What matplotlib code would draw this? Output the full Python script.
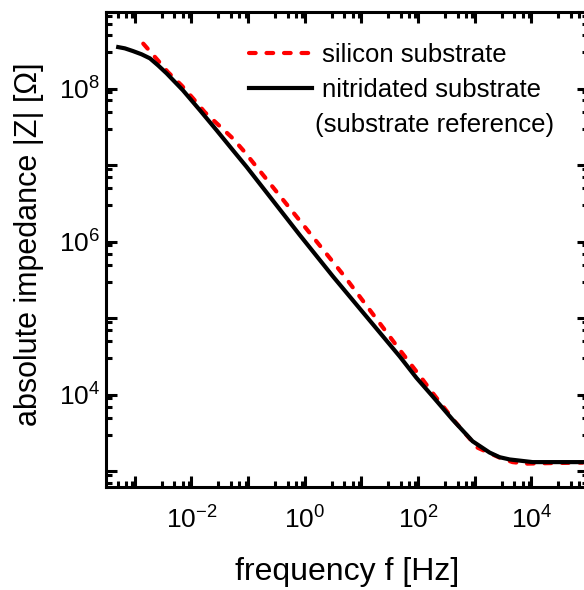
import matplotlib
matplotlib.use("Agg")
import matplotlib.pyplot as plt
from matplotlib.ticker import LogLocator, FuncFormatter, NullFormatter
import numpy as np

plt.rcParams['font.family'] = ['Liberation Sans', 'DejaVu Sans']
plt.rcParams['mathtext.fontset'] = 'custom'
plt.rcParams['mathtext.rm'] = 'Liberation Sans'
plt.rcParams['mathtext.it'] = 'Liberation Sans:italic'

# nitridated substrate (substrate reference)
freq_nitr = [5.09e-4, 6.68e-4, 9.25e-4, 1.32e-3, 1.85e-3, 2.59e-3, 3.64e-3, 7.05e-3,
             1.41e-2, 2.77e-2, 5.37e-2, 9.38e-2, 0.817, 3.16, 47.4, 93.3, 181, 407,
             918, 1.83e3, 2.75e3, 4.13e3, 1.05e4, 8.0e4, 1.0e5]
z_nitr = [3.48e8, 3.35e8, 3.09e8, 2.80e8, 2.48e8, 2.00e8, 1.58e8, 9.51e7,
          5.21e7, 2.86e7, 1.57e7, 9.51e6, 1.22e6, 3.50e5, 3.17e4, 1.67e4, 9.53e3, 4.74e3,
          2.47e3, 1.76e3, 1.53e3, 1.43e3, 1.32e3, 1.32e3, 1.32e3]

# silicon substrate
freq_si = [1.41e-3, 2.55e-3, 3.84e-3, 6.68e-3, 1.06e-2, 1.72e-2, 3.17e-2, 5.31e-2,
           8.39e-2, 1.31, 5.07, 47.4, 71.1, 114, 172, 443, 1.12e3, 2.75e3,
           4.66e3, 8.13e3, 2.0e4, 8.0e4]
z_si = [3.86e8, 2.34e8, 1.64e8, 1.10e8, 7.48e7, 4.91e7, 3.22e7, 2.25e7,
        1.53e7, 1.22e6, 3.50e5, 3.87e4, 2.62e4, 1.67e4, 1.11e4, 4.50e3, 2.04e3, 1.51e3,
        1.32e3, 1.26e3, 1.28e3, 1.30e3]

label_si = "silicon substrate"
label_nitr = "nitridated substrate"
label_nitr2 = "(substrate reference)"
xlabel = "frequency f [Hz]"
ylabel = "absolute impedance |Z| [Ω]"
xlim = (3.1e-4, 1.0e5)
ylim = (6.3e2, 1.0e9)
xlabeled = [-2, 0, 2, 4]
ylabeled = [4, 6, 8]

fig = plt.figure(figsize=(5.84, 5.90), dpi=100)
ax = fig.add_axes([106/584, 1 - 486.7/590, (588-106)/584, (486.7-12)/590])

ax.plot(freq_si, z_si, color='#ff0000', lw=3.0, linestyle=(0, (1.6, 2.6)),
        dash_capstyle='round', label=label_si, zorder=2)
ax.plot(freq_nitr, z_nitr, color='black', lw=3.0, label=label_nitr, zorder=3,
        solid_joinstyle='round')

ax.set_xscale('log')
ax.set_yscale('log')
ax.set_xlim(*xlim)
ax.set_ylim(*ylim)

ax.xaxis.set_major_locator(LogLocator(base=10, subs=(1.0,), numticks=20))
ax.yaxis.set_major_locator(LogLocator(base=10, subs=(1.0,), numticks=20))
ax.xaxis.set_minor_locator(LogLocator(base=10, subs=(3, 5, 7, 9), numticks=20))
ax.yaxis.set_minor_locator(LogLocator(base=10, subs=(3, 5, 7, 9), numticks=20))

def fmt_x(v, pos):
    e = int(round(np.log10(v)))
    return r'$\mathregular{10^{%d}}$' % e if e in xlabeled else ''

def fmt_y(v, pos):
    e = int(round(np.log10(v)))
    return r'$\mathregular{10^{%d}}$' % e if e in ylabeled else ''

ax.xaxis.set_major_formatter(FuncFormatter(fmt_x))
ax.yaxis.set_major_formatter(FuncFormatter(fmt_y))
ax.xaxis.set_minor_formatter(NullFormatter())
ax.yaxis.set_minor_formatter(NullFormatter())

ax.tick_params(which='both', direction='in', top=True, right=True, width=2.2, labelsize=19)
ax.tick_params(which='major', length=8)
ax.tick_params(which='minor', length=4)
ax.tick_params(axis='x', which='major', pad=14)
ax.tick_params(axis='y', which='major', pad=4)
for s in ax.spines.values():
    s.set_linewidth(2.2)

ax.set_xlabel(xlabel, fontsize=23, labelpad=17)
ax.set_ylabel(ylabel, fontsize=22)
ax.yaxis.set_label_coords(-0.128, 0.51)

leg = ax.legend(loc='upper left', bbox_to_anchor=(0.296, 0.934), frameon=False,
                fontsize=18.5, handlelength=2.45, handletextpad=0.4, labelspacing=0.42,
                borderpad=0, borderaxespad=0)
t = fig.text(315/584, 1 - 125/590, label_nitr2, fontsize=18.5, ha='left', va='center')

fig.savefig("out.png", dpi=100)
